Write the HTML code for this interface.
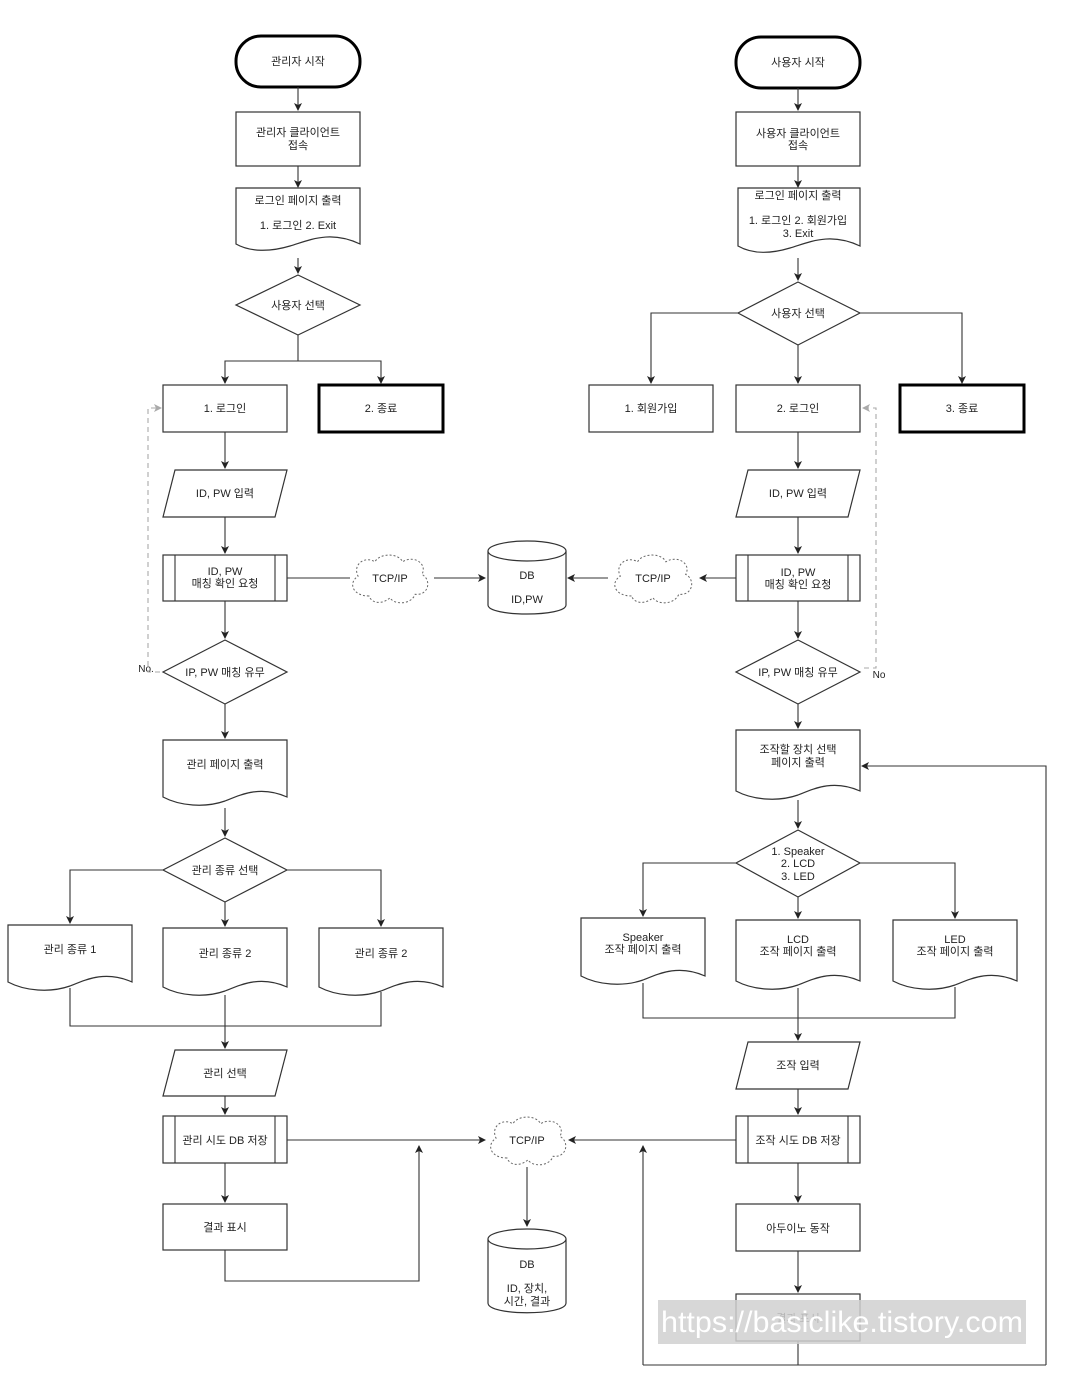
<!DOCTYPE html>
<html><head><meta charset="utf-8"><style>
html,body{margin:0;padding:0;background:#fff;}
svg{display:block;}
text{font-family:"Liberation Sans","Noto Sans CJK KR",sans-serif;font-size:11px;fill:#222;text-anchor:middle;}
.s{fill:#fff;stroke:#333;stroke-width:1.2;}
.t{fill:#fff;stroke:#000;stroke-width:3;}
.l{fill:none;stroke:#333;stroke-width:1.1;}
.d{fill:none;stroke:#aaa;stroke-width:1.1;stroke-dasharray:5,4;}
.c{fill:#fff;stroke:#666;stroke-width:1;stroke-dasharray:2,2;}
</style></head><body>
<svg width="1066" height="1385" viewBox="0 0 1066 1385" xmlns="http://www.w3.org/2000/svg">
<defs>
<marker id="a" markerWidth="8" markerHeight="8" refX="7" refY="4" orient="auto" markerUnits="userSpaceOnUse"><path d="M0,0 L8,4 L0,8 L2,4 Z" fill="#222"/></marker>
<marker id="g" markerWidth="8" markerHeight="8" refX="7" refY="4" orient="auto" markerUnits="userSpaceOnUse"><path d="M0,0 L8,4 L0,8 L2,4 Z" fill="#aaa"/></marker>
</defs>

<!-- LEFT COLUMN -->
<rect class="t" x="236" y="36" width="124" height="51" rx="25"/>
<text x="298" y="65">관리자 시작</text>
<path class="l" d="M298,87 V110" marker-end="url(#a)"/>
<rect class="s" x="236" y="112" width="124" height="54"/>
<text x="298" y="136">관리자 클라이언트</text><text x="298" y="149">접속</text>
<path class="l" d="M298,166 V187" marker-end="url(#a)"/>
<path class="s" d="M236,188 H360 V244 C330,230 310,240 290,246 C270,252 250,252 236,244 Z"/>
<text x="298" y="204">로그인 페이지 출력</text><text x="298" y="229">1. 로그인 2. Exit</text>
<path class="l" d="M298,258 V273" marker-end="url(#a)"/>
<path class="s" d="M298,275 L360,305 L298,335 L236,305 Z"/>
<text x="298" y="309">사용자 선택</text>
<path class="l" d="M298,335 V361 H225 V383" marker-end="url(#a)"/>
<path class="l" d="M298,361 H381 V383" marker-end="url(#a)"/>
<rect class="s" x="163" y="385" width="124" height="47"/>
<text x="225" y="412">1. 로그인</text>
<rect class="t" x="319" y="385" width="124" height="47"/>
<text x="381" y="412">2. 종료</text>
<path class="l" d="M225,432 V468" marker-end="url(#a)"/>
<path class="s" d="M175,470 H287 L275,517 H163 Z"/>
<text x="225" y="497">ID, PW 입력</text>
<path class="l" d="M225,517 V553" marker-end="url(#a)"/>
<rect class="s" x="163" y="555" width="124" height="46"/>
<path class="l" d="M175,555 V601 M275,555 V601"/>
<text x="225" y="575">ID, PW</text><text x="225" y="587">매칭 확인 요청</text>
<path class="l" d="M287,578 H350"/>
<g transform="translate(348,551) scale(0.84,0.9)"><path class="c" vector-effect="non-scaling-stroke" d="M25,50 C5,50 0,35 12,28 C5,15 20,5 32,12 C38,2 60,2 65,12 C78,4 95,14 88,26 C100,32 96,50 80,48 C75,60 55,60 50,52 C40,60 28,58 25,50 Z"/></g>
<text x="390" y="582">TCP/IP</text>
<path class="l" d="M434,578 H485" marker-end="url(#a)"/>
<path class="s" d="M488,551 V605 C488,617 566,617 566,605 V551"/>
<ellipse class="s" cx="527" cy="551" rx="39" ry="10"/>
<text x="527" y="579">DB</text><text x="527" y="603">ID,PW</text>
<path class="l" d="M608,578 H568" marker-end="url(#a)"/>
<g transform="translate(610,551) scale(0.86,0.9)"><path class="c" vector-effect="non-scaling-stroke" d="M25,50 C5,50 0,35 12,28 C5,15 20,5 32,12 C38,2 60,2 65,12 C78,4 95,14 88,26 C100,32 96,50 80,48 C75,60 55,60 50,52 C40,60 28,58 25,50 Z"/></g>
<text x="653" y="582">TCP/IP</text>
<path class="l" d="M736,578 H700" marker-end="url(#a)"/>

<path class="l" d="M225,601 V638" marker-end="url(#a)"/>
<path class="s" d="M225,640 L287,672 L225,704 L163,672 Z"/>
<text x="225" y="676">IP, PW 매칭 유무</text>
<text x="146" y="672" style="font-size:10px">No.</text>
<path class="d" d="M160,672 H148 V408 H161" marker-end="url(#g)"/>
<path class="l" d="M225,704 V738" marker-end="url(#a)"/>
<path class="s" d="M163,740 H287 V797 C260,785 240,795 225,801 C205,808 180,806 163,797 Z"/>
<text x="225" y="768">관리 페이지 출력</text>
<path class="l" d="M225,808 V836" marker-end="url(#a)"/>
<path class="s" d="M225,838 L287,870 L225,902 L163,870 Z"/>
<text x="225" y="874">관리 종류 선택</text>
<path class="l" d="M163,870 H70 V923" marker-end="url(#a)"/>
<path class="l" d="M287,870 H381 V926" marker-end="url(#a)"/>
<path class="l" d="M225,902 V926" marker-end="url(#a)"/>
<path class="s" d="M8,925 H132 V982 C105,970 85,980 70,986 C50,993 25,991 8,982 Z"/>
<text x="70" y="953">관리 종류 1</text>
<path class="s" d="M163,928 H287 V987 C260,975 240,985 225,991 C205,998 180,996 163,987 Z"/>
<text x="225" y="957">관리 종류 2</text>
<path class="s" d="M319,928 H443 V987 C416,975 396,985 381,991 C361,998 336,996 319,987 Z"/>
<text x="381" y="957">관리 종류 2</text>
<path class="l" d="M70,988 V1026 H381 V992"/>
<path class="l" d="M225,995 V1048" marker-end="url(#a)"/>
<path class="s" d="M175,1050 H287 L275,1096 H163 Z"/>
<text x="225" y="1077">관리 선택</text>
<path class="l" d="M225,1096 V1114" marker-end="url(#a)"/>
<rect class="s" x="163" y="1116" width="124" height="47"/>
<path class="l" d="M175,1116 V1163 M275,1116 V1163"/>
<text x="225" y="1144">관리 시도 DB 저장</text>
<path class="l" d="M287,1140 H485" marker-end="url(#a)"/>
<path class="l" d="M225,1163 V1202" marker-end="url(#a)"/>
<rect class="s" x="163" y="1204" width="124" height="46"/>
<text x="225" y="1231">결과 표시</text>
<path class="l" d="M225,1250 V1281 H419 V1146" marker-end="url(#a)"/>
<g transform="translate(486,1113) scale(0.84,0.9)"><path class="c" vector-effect="non-scaling-stroke" d="M25,50 C5,50 0,35 12,28 C5,15 20,5 32,12 C38,2 60,2 65,12 C78,4 95,14 88,26 C100,32 96,50 80,48 C75,60 55,60 50,52 C40,60 28,58 25,50 Z"/></g>
<text x="527" y="1144">TCP/IP</text>
<path class="l" d="M527,1167 V1226" marker-end="url(#a)"/>
<path class="s" d="M488,1239 V1303 C488,1316 566,1316 566,1303 V1239"/>
<ellipse class="s" cx="527" cy="1239" rx="39" ry="10"/>
<text x="527" y="1268">DB</text><text x="527" y="1292">ID, 장치,</text><text x="527" y="1305">시간, 결과</text>

<!-- RIGHT COLUMN -->
<rect class="t" x="736" y="37" width="124" height="51" rx="25"/>
<text x="798" y="66">사용자 시작</text>
<path class="l" d="M798,88 V110" marker-end="url(#a)"/>
<rect class="s" x="736" y="112" width="124" height="54"/>
<text x="798" y="137">사용자 클라이언트</text><text x="798" y="149">접속</text>
<path class="l" d="M798,166 V187" marker-end="url(#a)"/>
<path class="s" d="M738,188 H860 V246 C830,232 810,242 790,248 C770,254 752,254 738,246 Z"/>
<text x="798" y="199">로그인 페이지 출력</text><text x="798" y="224">1. 로그인 2. 회원가입</text><text x="798" y="237">3. Exit</text>
<path class="l" d="M798,258 V280" marker-end="url(#a)"/>
<path class="s" d="M798,282 L860,313 L798,345 L738,313 Z"/>
<text x="798" y="317">사용자 선택</text>
<path class="l" d="M738,313 H651 V383" marker-end="url(#a)"/>
<path class="l" d="M860,313 H962 V383" marker-end="url(#a)"/>
<path class="l" d="M798,345 V383" marker-end="url(#a)"/>
<rect class="s" x="589" y="385" width="124" height="47"/>
<text x="651" y="412">1. 회원가입</text>
<rect class="s" x="736" y="385" width="124" height="47"/>
<text x="798" y="412">2. 로그인</text>
<rect class="t" x="900" y="385" width="124" height="47"/>
<text x="962" y="412">3. 종료</text>
<path class="l" d="M798,432 V468" marker-end="url(#a)"/>
<path class="s" d="M748,470 H860 L848,517 H736 Z"/>
<text x="798" y="497">ID, PW 입력</text>
<path class="l" d="M798,517 V553" marker-end="url(#a)"/>
<rect class="s" x="736" y="555" width="124" height="46"/>
<path class="l" d="M748,555 V601 M848,555 V601"/>
<text x="798" y="576">ID, PW</text><text x="798" y="588">매칭 확인 요청</text>
<path class="l" d="M798,601 V638" marker-end="url(#a)"/>
<path class="s" d="M798,640 L860,672 L798,704 L736,672 Z"/>
<text x="798" y="676">IP, PW 매칭 유무</text>
<text x="879" y="678" style="font-size:10px">No</text>
<path class="d" d="M864,668 H876 V408 H863" marker-end="url(#g)"/>
<path class="l" d="M798,704 V728" marker-end="url(#a)"/>
<path class="s" d="M736,730 H860 V791 C833,779 813,789 798,795 C778,802 753,800 736,791 Z"/>
<text x="798" y="753">조작할 장치 선택</text><text x="798" y="766">페이지 출력</text>
<path class="l" d="M1046,1365 V766 H862" marker-end="url(#a)"/>
<path class="l" d="M798,800 V828" marker-end="url(#a)"/>
<path class="s" d="M798,830 L860,863 L798,897 L736,863 Z"/>
<text x="798" y="855">1. Speaker</text><text x="798" y="867">2. LCD</text><text x="798" y="880">3. LED</text>
<path class="l" d="M736,863 H643 V916" marker-end="url(#a)"/>
<path class="l" d="M860,863 H955 V918" marker-end="url(#a)"/>
<path class="l" d="M798,897 V918" marker-end="url(#a)"/>
<path class="s" d="M581,918 H705 V976 C678,964 658,974 643,980 C623,987 598,985 581,976 Z"/>
<text x="643" y="941">Speaker</text><text x="643" y="953">조작 페이지 출력</text>
<path class="s" d="M736,920 H860 V981 C833,969 813,979 798,985 C778,992 753,990 736,981 Z"/>
<text x="798" y="943">LCD</text><text x="798" y="955">조작 페이지 출력</text>
<path class="s" d="M893,920 H1017 V981 C990,969 970,979 955,985 C935,992 910,990 893,981 Z"/>
<text x="955" y="943">LED</text><text x="955" y="955">조작 페이지 출력</text>
<path class="l" d="M643,983 V1018 H955 V987"/>
<path class="l" d="M798,988 V1040" marker-end="url(#a)"/>
<path class="s" d="M748,1042 H860 L848,1089 H736 Z"/>
<text x="798" y="1069">조작 입력</text>
<path class="l" d="M798,1089 V1114" marker-end="url(#a)"/>
<rect class="s" x="736" y="1116" width="124" height="47"/>
<path class="l" d="M748,1116 V1163 M848,1116 V1163"/>
<text x="798" y="1144">조작 시도 DB 저장</text>
<path class="l" d="M736,1140 H569" marker-end="url(#a)"/>
<path class="l" d="M643,1365 V1146" marker-end="url(#a)"/>
<path class="l" d="M798,1163 V1202" marker-end="url(#a)"/>
<rect class="s" x="736" y="1204" width="124" height="47"/>
<text x="798" y="1232">아두이노 동작</text>
<path class="l" d="M798,1251 V1292" marker-end="url(#a)"/>
<rect class="s" x="736" y="1294" width="124" height="47"/>
<text x="798" y="1322">결과 표시</text>
<path class="l" d="M798,1341 V1365 M643,1365 H1046"/>

<rect x="658" y="1300" width="368" height="44" fill="#d0d0d0" opacity="0.85"/>
<text x="842" y="1332" textLength="362" lengthAdjust="spacingAndGlyphs" style="font-size:30px;fill:#fff;font-family:'Liberation Sans',sans-serif">https://basiclike.tistory.com</text>
</svg>
</body></html>
